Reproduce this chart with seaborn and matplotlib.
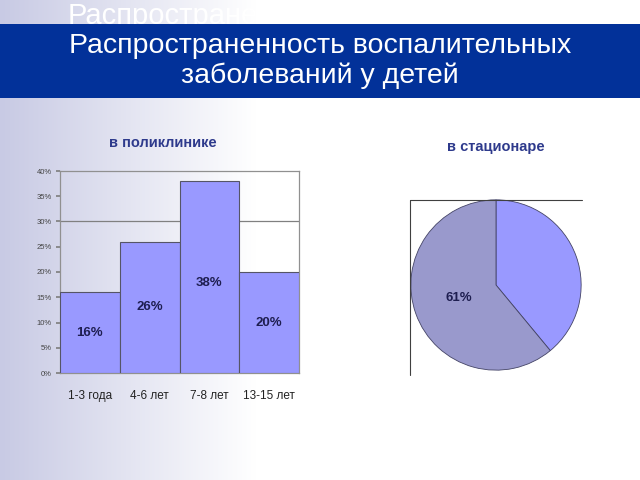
import numpy as np
import matplotlib
matplotlib.use("Agg")
import matplotlib.pyplot as plt
import seaborn as sns
import pandas as pd
from matplotlib.lines import Line2D
from matplotlib.patches import Rectangle

# ---- data ----
title = "Распространенность воспалительных\nзаболеваний у детей"
ghost_title = "Распространенность"
bar_subtitle = "в поликлинике"
pie_subtitle = "в стационаре"
age_groups = ["1-3 года", "4-6 лет", "7-8 лет", "13-15 лет"]
clinic_pct = [16, 26, 38, 20]
hospital_labels = ["другие", "воспалительные"]
hospital_pct = [39, 61]
ytick_vals = [0, 5, 10, 15, 20, 25, 30, 35, 40]

sns.set_theme(style="white")
plt.rcParams["font.family"] = ["Liberation Sans", "DejaVu Sans"]

fig = plt.figure(figsize=(6.4, 4.8), dpi=100)

# background gradient
bg = fig.add_axes([0, 0, 1, 1], zorder=-10)
grad = np.linspace(0, 1, 640)
t = np.clip(grad / 0.40, 0, 1)
c0 = np.array([200, 202, 228]) / 255.0
c1 = np.array([1.0, 1.0, 1.0])
row = (c0[None, :] * (1 - t[:, None]) + c1[None, :] * t[:, None])
img = np.repeat(row[None, :, :], 10, axis=0)
bg.imshow(img, aspect="auto", extent=[0, 1, 0, 1])
bg.set_xlim(0, 1)
bg.set_ylim(0, 1)
bg.axis("off")

# ghost title behind banner
fig.text(68 / 640, 1 - 24 / 480, ghost_title, color="white", fontsize=21,
         ha="left", va="baseline", zorder=1)
# banner
fig.patches.append(Rectangle((0, 1 - 98 / 480), 1, 74 / 480, transform=fig.transFigure,
                             facecolor="#023199", edgecolor="none", zorder=2))
fig.text(0.5, 1 - 61 / 480, title, color="white", fontsize=20.5, ha="center",
         va="center", linespacing=1.15, zorder=3)

# ---- bar chart ----
ax = fig.add_axes([60 / 640, 1 - 373 / 480, 239 / 640, 202 / 480])
ax.set_facecolor("none")
df = pd.DataFrame({"age": age_groups, "pct": clinic_pct})
sns.barplot(data=df, x="age", y="pct", ax=ax, color="#9999FF", width=1.0,
            saturation=1, edgecolor="#555566", linewidth=0.8, zorder=3)
ax.axhline(30, color="#808080", lw=0.9, zorder=1)
ax.set_ylim(0, 40)
ax.set_xlim(-0.5, len(age_groups) - 0.5)
ax.set_yticks(ytick_vals)
ax.set_yticklabels([f"{v}%" for v in ytick_vals], fontsize=5.5, color="#444444")
ax.set_xticks(range(len(age_groups)))
ax.set_xticklabels(age_groups, fontsize=8.5, color="#222222")
ax.set_xticks(np.arange(-0.5, len(age_groups)), minor=True)
ax.tick_params(axis="x", which="major", length=0, pad=12)
ax.tick_params(axis="x", which="minor", length=3, color="#808080", direction="out")
ax.tick_params(axis="y", length=3, color="#808080", direction="out", pad=3, left=True)
ax.set_xlabel("")
ax.set_ylabel("")
for s in ax.spines.values():
    s.set_color("#909090")
    s.set_linewidth(0.9)
for i, v in enumerate(clinic_pct):
    ax.text(i, v * 0.5 if v < 30 else v * 0.47, f"{v}%", ha="center", va="center",
            fontsize=9.5, fontweight="bold", color="#1E1E50", zorder=5)

fig.text(163 / 640, 1 - 143 / 480, bar_subtitle, fontsize=10.5, fontweight="bold",
         color="#2E3A8C", ha="center", va="center")
fig.text(496 / 640, 1 - 147 / 480, pie_subtitle, fontsize=10.5, fontweight="bold",
         color="#2E3A8C", ha="center", va="center")

# ---- pie chart ----
pax = fig.add_axes([(496 - 86) / 640, 1 - (285 + 86) / 480, 172 / 640, 172 / 480])
pax.set_facecolor("none")
wedges, texts, autotexts = pax.pie(
    hospital_pct, colors=["#9999FF", "#9999CC"], startangle=90, counterclock=False,
    autopct=lambda p: f"{p:.0f}%" if p > 50 else "", pctdistance=0.46,
    wedgeprops=dict(edgecolor="#444466", linewidth=0.6),
    textprops=dict(fontsize=9.5, fontweight="bold", color="#1E1E50"))
pax.set_xlim(-1.01, 1.01)
pax.set_ylim(-1.01, 1.01)
pax.set_aspect("equal")
pax.axis("off")

# frame lines around the pie (partial plot-area border)
fig.lines.append(Line2D([410 / 640, 582 / 640], [1 - 200 / 480, 1 - 200 / 480],
                        transform=fig.transFigure, color="#404040", lw=0.8))
fig.lines.append(Line2D([410 / 640, 410 / 640], [1 - 200 / 480, 1 - 375 / 480],
                        transform=fig.transFigure, color="#404040", lw=0.8))

fig.savefig("out.png", dpi=100)
